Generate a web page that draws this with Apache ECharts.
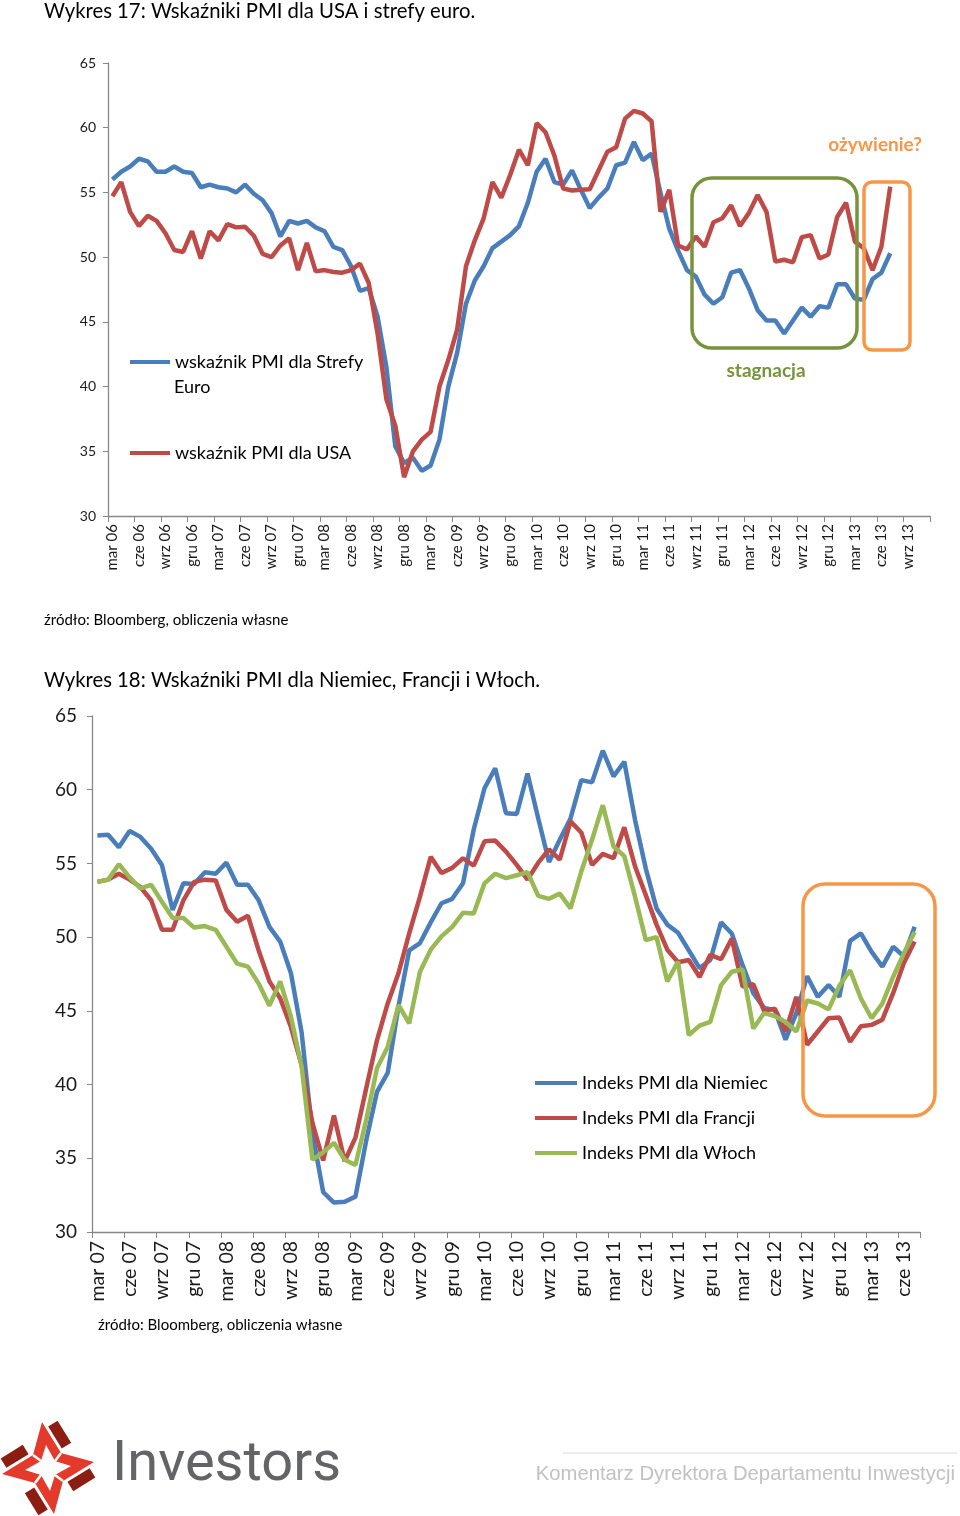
<!DOCTYPE html>
<html><head><meta charset="utf-8">
<script src="https://cdn.jsdelivr.net/npm/echarts@6/dist/echarts.min.js"></script>
<style>html,body{margin:0;padding:0;background:#fff}#c{width:960px;height:1516px}</style>
</head><body><div id="c"></div>
<script>
// ---------- Chart 1 (Wykres 17) ----------
const categories1 = ['mar 06','kwi 06','maj 06','cze 06','lip 06','sie 06','wrz 06','paź 06','lis 06','gru 06',
'sty 07','lut 07','mar 07','kwi 07','maj 07','cze 07','lip 07','sie 07','wrz 07','paź 07','lis 07','gru 07',
'sty 08','lut 08','mar 08','kwi 08','maj 08','cze 08','lip 08','sie 08','wrz 08','paź 08','lis 08','gru 08',
'sty 09','lut 09','mar 09','kwi 09','maj 09','cze 09','lip 09','sie 09','wrz 09','paź 09','lis 09','gru 09',
'sty 10','lut 10','mar 10','kwi 10','maj 10','cze 10','lip 10','sie 10','wrz 10','paź 10','lis 10','gru 10',
'sty 11','lut 11','mar 11','kwi 11','maj 11','cze 11','lip 11','sie 11','wrz 11','paź 11','lis 11','gru 11',
'sty 12','lut 12','mar 12','kwi 12','maj 12','cze 12','lip 12','sie 12','wrz 12','paź 12','lis 12','gru 12',
'sty 13','lut 13','mar 13','kwi 13','maj 13','cze 13','lip 13','sie 13','wrz 13','paź 13','lis 13'];
const pmiEuro = [56.0,56.6,57.0,57.6,57.4,56.6,56.6,57.0,56.6,56.5,
55.4,55.6,55.4,55.3,55.0,55.6,54.9,54.4,53.4,51.6,52.8,52.6,
52.8,52.3,52.0,50.8,50.55,49.3,47.4,47.6,45.4,41.5,35.4,34.1,
34.5,33.5,33.9,35.9,40.0,42.6,46.4,48.2,49.3,50.7,51.2,51.7,
52.4,54.2,56.6,57.6,55.8,55.6,56.7,55.2,53.8,54.6,55.3,57.1,
57.3,58.9,57.5,58.0,55.0,52.2,50.5,49.0,48.5,47.1,46.4,46.9,
48.8,49.0,47.6,45.9,45.1,45.1,44.1,45.1,46.1,45.4,46.2,46.1,
47.9,47.9,46.8,46.7,48.3,48.8,50.3];
const pmiUSA = [54.7,55.8,53.5,52.4,53.2,52.8,51.85,50.55,50.4,52.0,
49.9,52.0,51.3,52.55,52.3,52.35,51.65,50.25,50.0,50.9,51.45,49.0,
51.1,48.9,49.0,48.85,48.8,49.0,49.5,48.0,44.1,39.0,37.0,33.0,
35.0,35.9,36.5,40.0,42.05,44.4,49.3,51.3,53.0,55.8,54.6,56.35,
58.3,57.1,60.35,59.65,57.85,55.3,55.15,55.2,55.25,56.7,58.15,58.5,
60.7,61.3,61.1,60.5,53.5,55.2,50.9,50.6,51.6,50.8,52.7,53.0,
54.0,52.4,53.4,54.8,53.5,49.65,49.8,49.6,51.55,51.7,49.9,50.2,
53.1,54.2,51.2,50.7,49.0,50.8,55.45];
const yTicks1 = {min: 30, max: 65, step: 5};

// ---------- Chart 2 (Wykres 18) ----------
const categories2 = ['mar 07','kwi 07','maj 07','cze 07','lip 07','sie 07','wrz 07','paź 07','lis 07','gru 07',
'sty 08','lut 08','mar 08','kwi 08','maj 08','cze 08','lip 08','sie 08','wrz 08','paź 08','lis 08','gru 08',
'sty 09','lut 09','mar 09','kwi 09','maj 09','cze 09','lip 09','sie 09','wrz 09','paź 09','lis 09','gru 09',
'sty 10','lut 10','mar 10','kwi 10','maj 10','cze 10','lip 10','sie 10','wrz 10','paź 10','lis 10','gru 10',
'sty 11','lut 11','mar 11','kwi 11','maj 11','cze 11','lip 11','sie 11','wrz 11','paź 11','lis 11','gru 11',
'sty 12','lut 12','mar 12','kwi 12','maj 12','cze 12','lip 12','sie 12','wrz 12','paź 12','lis 12','gru 12',
'sty 13','lut 13','mar 13','kwi 13','maj 13','cze 13','lip 13'];
const pmiNiemcy = [56.9,56.95,56.1,57.2,56.8,56.0,54.9,51.85,53.65,53.6,
54.4,54.3,55.05,53.55,53.55,52.5,50.7,49.7,47.55,43.5,36.7,32.7,
32.0,32.05,32.4,36.2,39.5,40.8,45.3,49.1,49.6,51.0,52.3,52.6,
53.65,57.3,60.1,61.45,58.4,58.35,61.1,58.05,55.1,56.6,58.05,60.65,
60.5,62.65,60.9,61.9,57.95,54.65,51.95,50.85,50.3,49.1,47.9,48.45,
51.0,50.25,48.1,46.2,45.2,45.05,43.05,44.85,47.35,45.95,46.75,45.95,
49.75,50.25,49.0,48.0,49.35,48.7,50.7];
const pmiFrancja = [53.75,53.9,54.3,53.9,53.4,52.5,50.5,50.5,52.5,53.75,
53.9,53.85,51.85,51.05,51.45,49.1,47.0,45.85,43.9,41.3,37.4,34.85,
37.9,34.8,36.4,39.75,43.0,45.5,47.55,50.25,52.75,55.45,54.35,54.7,
55.35,54.85,56.5,56.55,55.8,54.9,53.9,55.05,55.95,55.25,57.85,57.1,
54.9,55.65,55.35,57.45,54.8,52.85,50.85,49.15,48.3,48.45,47.3,48.8,
48.5,49.9,46.65,46.8,45.0,45.15,43.6,45.95,42.7,43.6,44.5,44.55,
42.9,43.95,44.05,44.4,46.2,48.25,49.7];
const pmiWlochy = [53.75,53.9,54.95,54.05,53.3,53.55,52.4,51.3,51.3,50.65,
50.75,50.5,49.35,48.2,48.0,46.85,45.35,47.0,44.6,41.2,34.9,35.4,
36.05,34.9,34.55,37.6,41.1,42.55,45.4,44.15,47.65,49.15,50.05,50.7,
51.65,51.6,53.65,54.3,54.0,54.2,54.4,52.8,52.6,52.95,51.95,54.45,
56.6,58.95,56.15,55.5,52.75,49.8,50.0,47.0,48.35,43.35,44.0,44.25,
46.75,47.65,47.8,43.8,44.85,44.65,44.25,43.6,45.7,45.5,45.1,46.7,
47.75,45.85,44.5,45.5,47.3,48.9,50.35];
const yTicks2 = {min: 30, max: 65, step: 5};

// ---------- styles ----------
const C_BLUE = '#4A7EBB', C_RED = '#BE4B48', C_GREEN = '#98B954';
const C_ORANGE = '#F79646', C_OLIVE = '#77933C', AXIS = '#888888';
const FONT = 'Lato, "Open Sans", sans-serif';

function catAxis(gridIndex, data, fs, margin) {
  return {
    type: 'category', gridIndex, data, boundaryGap: true,
    axisLine: {lineStyle: {color: AXIS, width: 1.3}},
    axisTick: {show: true, interval: 2, length: 6, lineStyle: {color: AXIS}},
    axisLabel: {interval: 2, rotate: 90, margin, fontSize: fs, fontFamily: FONT, color: '#1a1a1a'},
    splitLine: {show: false}
  };
}
function valAxis(gridIndex, t, fs, margin) {
  return {
    type: 'value', gridIndex, min: t.min, max: t.max, interval: t.step,
    axisLine: {show: true, lineStyle: {color: AXIS, width: 1.3}},
    axisTick: {show: true, length: 5, lineStyle: {color: AXIS}},
    axisLabel: {margin, fontSize: fs, fontFamily: FONT, color: '#1a1a1a'},
    splitLine: {show: false}
  };
}
function lineSeries(name, data, color, xi, yi) {
  return {name, type: 'line', data, xAxisIndex: xi, yAxisIndex: yi, symbol: 'none',
    smooth: false, lineStyle: {color, width: 4.5}, itemStyle: {color}, animation: false};
}

// ---------- logo (decorative) ----------
function rot(p, k) { let [x, y] = p; for (let i = 0; i < k; i++) { [x, y] = [-y, x]; } return [x, y]; }
const LC = [48, 1468];
function place(pts, k) { return pts.map(p => { const r = rot(p, k); return [LC[0] + r[0], LC[1] + r[1]]; }); }
const logo = [];
const T0 = [-6, -46], I01 = [13, -15];
const redStar = [];
for (let k = 0; k < 4; k++) { redStar.push(rot(T0, k)); redStar.push(rot(I01, k)); }
logo.push({type: 'polygon', shape: {points: place(redStar, 0)}, style: {fill: '#E43A2C'}});
const whiteStar = [];
for (let k = 0; k < 4; k++) { whiteStar.push(rot([-2, -23], k)); whiteStar.push(rot([7, -7], k)); }
logo.push({type: 'polygon', shape: {points: place(whiteStar, 0)}, style: {fill: '#fff'}});
const du = [0.522, 0.852], nn = [0.852, -0.522];
function add(a, b, s) { return [a[0] + b[0] * s, a[1] + b[1] * s]; }
for (let k = 0; k < 4; k++) {
  const p1 = add(add(T0, du, 7), nn, 3), p2 = add(add(T0, du, 33), nn, 3);
  const p3 = add(p2, nn, 11), p4 = add(p1, nn, 11);
  logo.push({type: 'polygon', shape: {points: place([p1, p2, p3, p4], k)}, style: {fill: '#8C1D12'}});
  const a = place([[7, -7], [13, -15]], k);
  logo.push({type: 'line', shape: {x1: a[0][0], y1: a[0][1], x2: a[1][0], y2: a[1][1]}, style: {stroke: '#fff', lineWidth: 2.5}});
}

function txt(text, x, y, size, opts) {
  opts = opts || {};
  return {type: 'text', z: 100, style: Object.assign({text, x, y, fontSize: size, fontFamily: opts.family || FONT,
    fontWeight: opts.weight || 'normal', fill: opts.color || '#000',
    align: opts.align || 'left', verticalAlign: 'middle', textAlign: opts.align || 'left', textVerticalAlign: 'middle'})};
}

const chart = echarts.init(document.getElementById('c'), null, {renderer: 'canvas'});
chart.setOption({
  backgroundColor: '#fff',
  animation: false,
  grid: [
    {left: 108, top: 63, width: 822, height: 453},
    {left: 92, top: 716, width: 828, height: 516}
  ],
  xAxis: [catAxis(0, categories1, 15, 8), catAxis(1, categories2, 19.5, 9)],
  yAxis: [valAxis(0, yTicks1, 14, 12), valAxis(1, yTicks2, 19, 15)],
  legend: [
    {data: ['wskaźnik PMI dla Strefy Euro'], left: 130, top: 351, padding: 0, icon: 'rect', itemWidth: 40, itemHeight: 4,
      selectedMode: false, formatter: () => 'wskaźnik PMI dla Strefy', textStyle: {fontSize: 18, fontFamily: FONT, color: '#000', lineHeight: 22}},
    {data: ['wskaźnik PMI dla USA'], left: 130, top: 442, padding: 0, icon: 'rect', itemWidth: 40, itemHeight: 4,
      selectedMode: false, textStyle: {fontSize: 18, fontFamily: FONT, color: '#000', lineHeight: 22}},
    {data: ['Indeks PMI dla Niemiec', 'Indeks PMI dla Francji', 'Indeks PMI dla Włoch'], orient: 'vertical',
      left: 535, top: 1071, padding: 0, icon: 'rect', itemWidth: 42, itemHeight: 4, itemGap: 11,
      selectedMode: false, textStyle: {fontSize: 18, fontFamily: FONT, color: '#000', lineHeight: 24}}
  ],
  series: [
    lineSeries('wskaźnik PMI dla Strefy Euro', pmiEuro, C_BLUE, 0, 0),
    lineSeries('wskaźnik PMI dla USA', pmiUSA, C_RED, 0, 0),
    lineSeries('Indeks PMI dla Niemiec', pmiNiemcy, C_BLUE, 1, 1),
    lineSeries('Indeks PMI dla Francji', pmiFrancja, C_RED, 1, 1),
    lineSeries('Indeks PMI dla Włoch', pmiWlochy, C_GREEN, 1, 1)
  ],
  graphic: [
    txt('Wykres 17: Wskaźniki PMI dla USA i strefy euro.', 44, 11, 20.3),
    txt('Euro', 174, 387, 18),
    {type: 'rect', z: 50, shape: {x: 692, y: 178, width: 165, height: 170, r: 20}, style: {fill: 'none', stroke: C_OLIVE, lineWidth: 3.5}},
    txt('stagnacja', 766, 371, 19, {weight: 'bold', color: C_OLIVE, align: 'center'}),
    {type: 'rect', z: 50, shape: {x: 864, y: 182, width: 46, height: 168, r: 8}, style: {fill: 'none', stroke: C_ORANGE, lineWidth: 3.5}},
    txt('ożywienie?', 922, 145, 19, {weight: 'bold', color: C_ORANGE, align: 'right'}),
    txt('źródło: Bloomberg, obliczenia własne', 44, 620, 15),
    txt('Wykres 18: Wskaźniki PMI dla Niemiec, Francji i Włoch.', 44, 680, 20.3),
    {type: 'rect', z: 50, shape: {x: 803, y: 884, width: 132, height: 232, r: 22}, style: {fill: 'none', stroke: C_ORANGE, lineWidth: 3.5}},
    txt('źródło: Bloomberg, obliczenia własne', 98, 1325, 15),
    ...logo,
    txt('Investors', 112, 1466, 56, {family: 'Roboto, sans-serif', color: '#636466'}),
    {type: 'line', shape: {x1: 563, y1: 1453, x2: 957, y2: 1453}, style: {stroke: '#d9d9d9', lineWidth: 1}},
    txt('Komentarz Dyrektora Departamentu Inwestycji', 955, 1474, 20.3, {family: '"Liberation Sans", Arial, sans-serif', color: '#c2c2c2', align: 'right'})
  ]
});
</script></body></html>
